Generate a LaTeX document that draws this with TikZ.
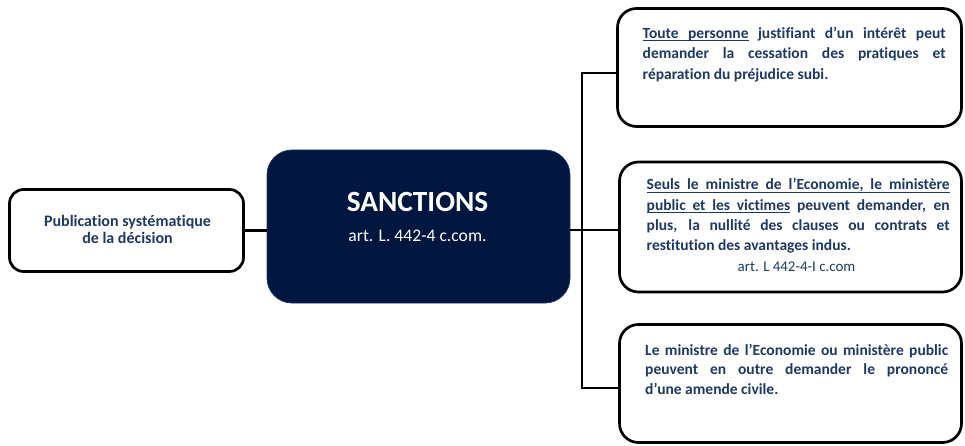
\documentclass[tikz,border=0pt]{standalone}
\usepackage{fontspec}
\setmainfont{Carlito}[Ligatures=NoCommon]
\usetikzlibrary{positioning}
\definecolor{navy}{RGB}{32,56,100}
\definecolor{deepnavy}{RGB}{0,22,62}
\definecolor{rimblue}{RGB}{30,55,110}
% underlined words, with stretchable underlined spaces between them
\newcommand\ulw[1]{\setbox0\hbox{#1}\rlap{\vrule height -1.8pt depth 3pt width \wd0}\box0\relax}
\newcommand\uls{\leaders\hrule height -1.8pt depth 3pt\hskip\fontdimen2\font plus \fontdimen3\font minus \fontdimen4\font}
\def\ulx#1 #2\relax{\ulw{#1}\ifx\relax#2\relax\else\uls\ulx#2\relax\fi}
\newcommand\ul[1]{\ulx#1 \relax}
% fixed height for the first line of a block
\newcommand\topstrut{\rule{0pt}{13pt}}
\begin{document}
\begin{tikzpicture}[x=1pt, y=-1pt, line join=miter, >=stealth,
  box/.style={draw=black, line width=2.7pt, fill=white, inner sep=0pt, rounded corners=19pt},
  para/.style={text width=303pt, align=justify, inner sep=0pt, anchor=north west, text=navy,
    font=\fontsize{15.5}{20.3}\selectfont\bfseries},
  link/.style={draw=black, line width=2.7pt}]
\def\xb{790.5} \def\wb{342}
\useasboundingbox (0,0) rectangle (965,446);
% left box and main box
\node[box, rounded corners=14pt, minimum width=234pt, minimum height=82pt] (pub) at (126.5,230.5) {};
\node[anchor=north, align=center, inner sep=0pt, text=navy, font=\fontsize{16}{17.3}\selectfont\bfseries]
  (pubtxt) at (127.5,213) {\topstrut Publication systématique\\de la décision};
\node[draw=rimblue, line width=0.8pt, fill=deepnavy, rounded corners=25pt,
  minimum width=303pt, minimum height=153pt] (sanc) at (418.5,226.5) {};
\node[anchor=base, text=white, font=\fontsize{29.3}{30}\selectfont\bfseries] (title) at (417.5,211.7) {SANCTIONS};
\node[anchor=base, text=white, font=\fontsize{17.6}{20}\selectfont] (ref) at (417.5,241.7) {art. L. 442-4 c.com.};
% right boxes
\node[box, minimum width=344pt, minimum height=118pt] (b1) at (789.5,67.5) {};
\node[box, minimum width=\wb pt, minimum height=130pt] (b2) at (\xb,227) {};
\node[box, minimum width=\wb pt, minimum height=118pt] (b3) at (\xb,383.5) {};
\node[para] (t1) at (642.5,25.3) {\topstrut\ul{Toute personne} justifiant d’un intérêt peut\linebreak
  demander la cessation des pratiques et\linebreak réparation du préjudice subi.};
\node[para] (t2) at (646.5,176.8) {\topstrut\ul{Seuls le ministre de l’Economie, le ministère}\linebreak
  \ul{public et les victimes} peuvent demander, en\linebreak plus, la nullité des clauses ou contrats et\linebreak
  restitution des avantages indus.};
\node[anchor=base, text=navy, font=\fontsize{14.9}{18}\selectfont] (art) at (796.5,271.3) {art. L 442-4-I c.com};
\node[para, font=\fontsize{15.5}{19.5}\selectfont\bfseries] (t3) at (645,342) {\topstrut Le ministre de l’Economie ou ministère public\linebreak
  peuvent en outre demander le prononcé\linebreak d’une amende civile.};
% connectors
\coordinate (jt) at (582,73);
\coordinate (jm) at (582,230);
\coordinate (jb) at (582,388);
\draw[link] (pub.east) -- (pub.east -| sanc.west);
\draw[link] (sanc.east |- jm) -- (jm -| b2.west);
\draw[link] (jt -| b1.west) -- (jt) -- (jb) -- (jb -| b3.west);
\end{tikzpicture}
\end{document}
